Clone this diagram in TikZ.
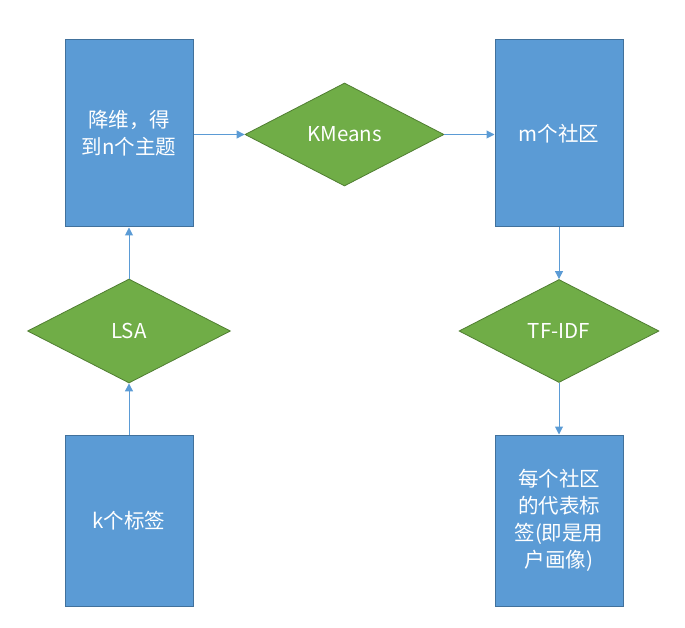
\documentclass[tikz,border=0pt]{standalone}
\usepackage{fontspec}
\setmainfont{Noto Sans CJK SC}
\usetikzlibrary{shapes.geometric,arrows.meta}
\definecolor{boxblue}{HTML}{5B9BD5}
\definecolor{boxedge}{HTML}{41719C}
\definecolor{dgreen}{HTML}{70AD47}
\definecolor{dedge}{HTML}{507E32}
\tikzset{
  bluebox/.style={draw=boxedge,fill=boxblue,line width=1pt,minimum width=128pt,inner sep=0pt,
    text=white,font=\fontsize{20.5}{27}\selectfont,align=center,text width=115pt},
  decision/.style={diamond,draw=dedge,fill=dgreen,line width=0.8pt,inner sep=0pt,
    minimum width=200pt,minimum height=103pt,text=white,font=\fontsize{20.5}{27}\selectfont},
  conn/.style={draw=boxblue,line width=1pt,-{Triangle[width=8pt,length=8pt]}}
}
\begin{document}
\begin{tikzpicture}[x=1pt,y=-1pt]
\useasboundingbox (0,0) rectangle (685,628);
\node[bluebox,minimum height=187pt] (dim) at (129,133.5) {降维，得\\到n个主题};
\node[bluebox,minimum height=171pt] (k) at (129,520.5) {k个标签};
\node[bluebox,minimum height=187pt] (m) at (559,133.5) {m个社区};
\node[bluebox,minimum height=171pt] (rep) at (559,520.5) {每个社区\\的代表标\\签(即是用\\户画像)};
\node[decision,minimum width=203pt,minimum height=104pt] (lsa) at (129,331) {LSA};
\node[decision,minimum width=199pt,minimum height=103pt] (km) at (344.5,134.5) {KMeans};
\node[decision,minimum width=200pt,minimum height=103pt] (tf) at (559,331) {TF-IDF};
\draw[conn] (k) -- (lsa);
\draw[conn] (lsa) -- (dim);
\draw[conn] (dim.east |- km) -- (km);
\draw[conn] (km) -- (m.west |- km);
\draw[conn] (m) -- (tf);
\draw[conn] (tf) -- (rep);
\end{tikzpicture}
\end{document}
